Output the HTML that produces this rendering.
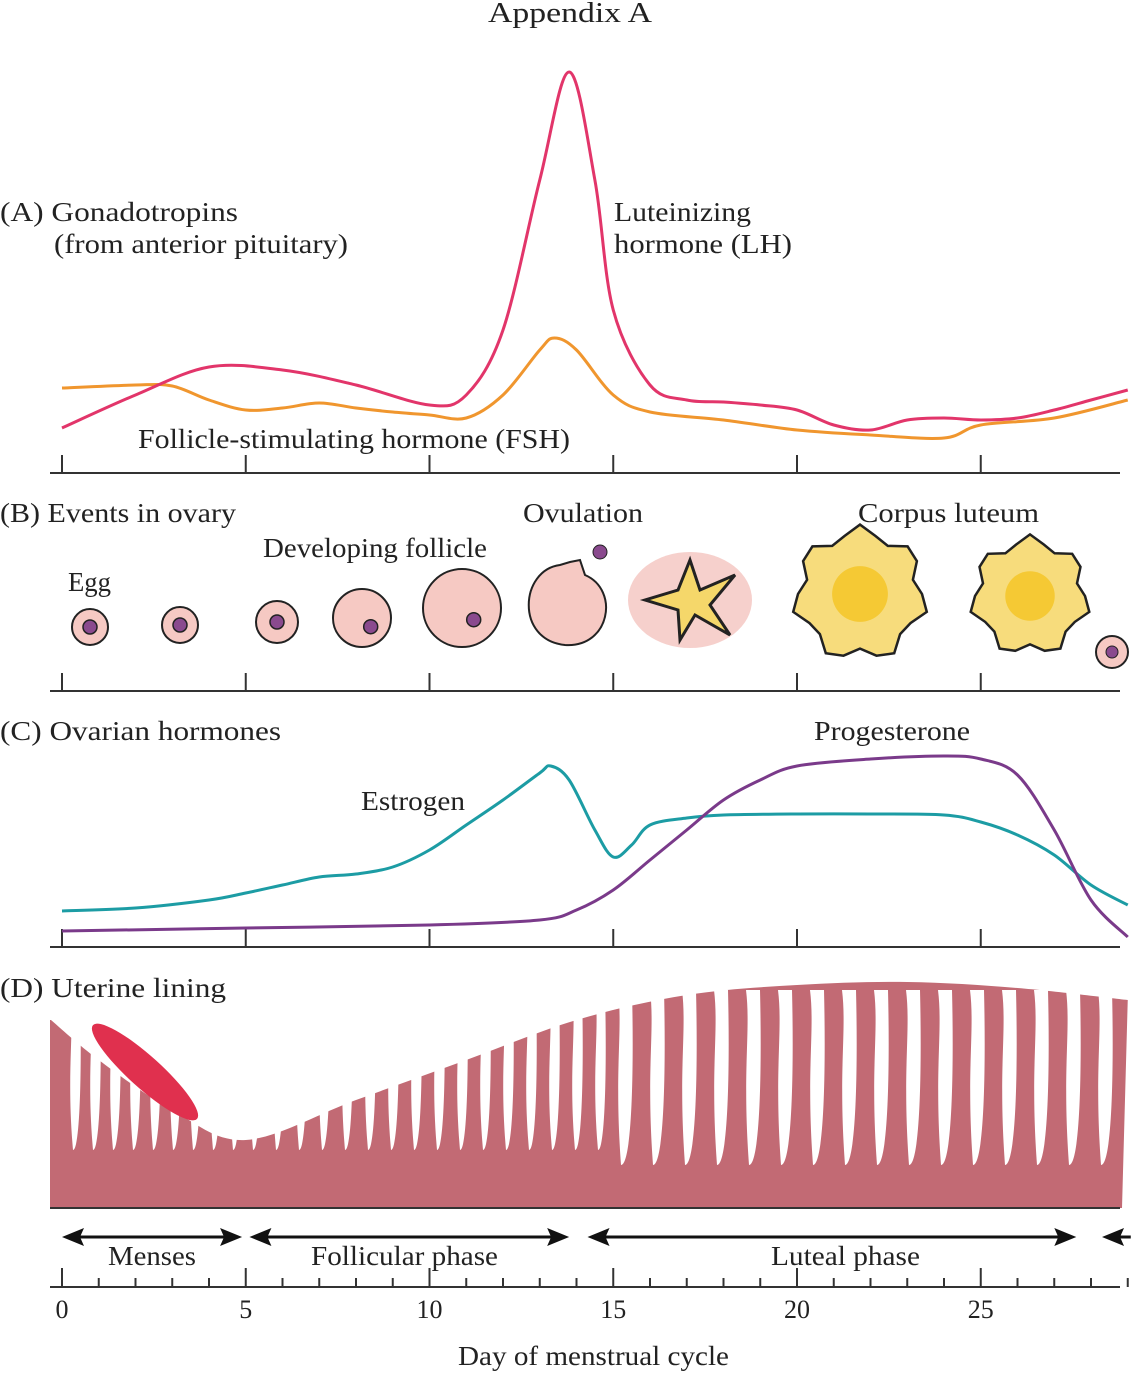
<!DOCTYPE html>
<html><head><meta charset="utf-8"><style>
body{margin:0;background:#fff}
svg{display:block}
text{font-family:"Liberation Serif",serif;fill:#222}
</style></head><body>
<svg id="chart" width="1142" height="1376" viewBox="0 0 1142 1376">
<text x="488" y="22" font-size="28" textLength="164" lengthAdjust="spacingAndGlyphs">Appendix A</text>
<g id="A"></g><g id="B"></g><g id="C"></g><g id="D"></g><g id="axes"></g>
<text x="0" y="221" font-size="27" textLength="238" lengthAdjust="spacingAndGlyphs">(A)  Gonadotropins</text>
<text x="54" y="253" font-size="27" textLength="294" lengthAdjust="spacingAndGlyphs">(from anterior pituitary)</text>
<text x="614" y="221" font-size="27" textLength="137" lengthAdjust="spacingAndGlyphs">Luteinizing</text>
<text x="614" y="253" font-size="27" textLength="178" lengthAdjust="spacingAndGlyphs">hormone (LH)</text>
<text x="138" y="448" font-size="27" textLength="432" lengthAdjust="spacingAndGlyphs">Follicle-stimulating hormone (FSH)</text>
<text x="0" y="522" font-size="27" textLength="236" lengthAdjust="spacingAndGlyphs">(B)  Events in ovary</text>
<text x="523" y="522" font-size="27" textLength="120" lengthAdjust="spacingAndGlyphs">Ovulation</text>
<text x="858" y="522" font-size="27" textLength="181" lengthAdjust="spacingAndGlyphs">Corpus luteum</text>
<text x="263" y="557" font-size="27" textLength="224" lengthAdjust="spacingAndGlyphs">Developing follicle</text>
<text x="68" y="591" font-size="27" textLength="43" lengthAdjust="spacingAndGlyphs">Egg</text>
<text x="0" y="740" font-size="27" textLength="281" lengthAdjust="spacingAndGlyphs">(C)  Ovarian hormones</text>
<text x="814" y="740" font-size="27" textLength="156" lengthAdjust="spacingAndGlyphs">Progesterone</text>
<text x="361" y="810" font-size="27" textLength="104" lengthAdjust="spacingAndGlyphs">Estrogen</text>
<text x="0" y="997" font-size="27" textLength="226" lengthAdjust="spacingAndGlyphs">(D)  Uterine lining</text>
<text x="108" y="1265" font-size="27" textLength="88" lengthAdjust="spacingAndGlyphs">Menses</text>
<text x="311" y="1265" font-size="27" textLength="187" lengthAdjust="spacingAndGlyphs">Follicular phase</text>
<text x="771" y="1265" font-size="27" textLength="149" lengthAdjust="spacingAndGlyphs">Luteal phase</text>
<text x="458" y="1365" font-size="27" textLength="271" lengthAdjust="spacingAndGlyphs">Day of menstrual cycle</text>
</svg>
<script>
const lhDays=[0,2,4,6,8,10,11,12,13,13.8,14.5,15,16,17,18,19,20,21,22,23,24,25,26,27,28,29];
const lhVals=[428,395,367,370,385,405,395,330,180,72,180,310,385,400,402,405,410,425,430,420,418,420,418,410,400,390];
const fshDays=[0,2,3,4,5,6,7,8,9,10,11,12,13,13.4,14,15,16,18,20,22,24,25,27,29];
const fshVals=[388,385,386,400,410,408,403,408,412,415,418,395,350,338,350,395,412,420,430,435,438,425,418,400];
const estDays=[0,2,4,5,6,7,8,9,10,11,12,13,13.3,13.8,14.5,15,15.5,16,17,18,20,22,24,25,26,27,28,29];
const estVals=[911,908,900,893,885,877,874,867,850,825,800,773,766,780,830,857,845,825,818,815,814,814,815,822,835,855,885,905];
const proDays=[0,5,10,13,14,15,16,17,18,19,20,22,24,25,26,27,28,29];
const proVals=[931,928,925,920,910,890,860,830,800,780,766,759,756,759,775,830,900,937];
const tickLabels=[0,5,10,15,20,25];
const NS="http://www.w3.org/2000/svg";
const X=d=>62+d*36.75;
function mk(t,a,p){const e=document.createElementNS(NS,t);for(const k in a)e.setAttribute(k,a[k]);(p||document.getElementById('chart')).appendChild(e);return e;}
function curve(days,vals){let pts=days.map((d,i)=>[X(d),vals[i]]);let s="M"+pts[0];for(let i=0;i<pts.length-1;i++){const p0=pts[i-1]||pts[i],p1=pts[i],p2=pts[i+1],p3=pts[i+2]||p2;const c1=[p1[0]+(p2[0]-p0[0])/6,p1[1]+(p2[1]-p0[1])/6],c2=[p2[0]-(p3[0]-p1[0])/6,p2[1]-(p3[1]-p1[1])/6];s+=" C"+c1+" "+c2+" "+p2;}return s;}
function baseline(g,y,name){const l=mk('line',{x1:50,x2:1120,y1:y,y2:y,stroke:'#333','stroke-width':2},g);
tickLabels.forEach(t=>{const k=mk('line',{x1:X(t),x2:X(t),y1:y,y2:y-18,stroke:'#333','stroke-width':2},g);});}
const A=document.getElementById('A'),B=document.getElementById('B'),C=document.getElementById('C'),D=document.getElementById('D'),AX=document.getElementById('axes');
baseline(A,473,'panel-a-axis');baseline(B,691,'panel-b-axis');baseline(C,947,'panel-c-axis');
let p=mk('path',{d:curve(fshDays,fshVals),fill:'none',stroke:'#f0962e','stroke-width':3},A);

p=mk('path',{d:curve(lhDays,lhVals),fill:'none',stroke:'#e2356a','stroke-width':3},A);

p=mk('path',{d:curve(estDays,estVals),fill:'none',stroke:'#1c9ca4','stroke-width':3},C);

p=mk('path',{d:curve(proDays,proVals),fill:'none',stroke:'#7a3a8a','stroke-width':3},C);

[[90,627,18,7],[180,625,18,7],[277,622,21,7],[362,618,29,7],[462,608,39,7]].forEach((f,i)=>{
 const c=mk('circle',{cx:f[0],cy:f[1],r:f[2],fill:'#f6c9c3',stroke:'#222','stroke-width':2},B);
 const e=mk('circle',{cx:f[0]+(i>2?f[2]*0.3:0),cy:f[1]+(i>2?f[2]*0.3:0),r:f[3],fill:'#8a4a8e',stroke:'#222','stroke-width':1.5},B);});
let o=mk('path',{d:'M560,565 C520,570 515,640 565,645 C610,648 620,590 585,575 L580,560 L570,562 Z',fill:'#f6c9c3',stroke:'#222','stroke-width':2},B);
o=mk('circle',{cx:600,cy:552,r:7,fill:'#8a4a8e',stroke:'#222'},B);
o=mk('ellipse',{cx:690,cy:600,rx:62,ry:48,fill:'#f4c4bf',opacity:0.8},B);
o=mk('path',{d:'M690,560 L700,590 L735,575 L710,605 L730,635 L695,615 L680,640 L678,610 L645,600 L678,590 Z',fill:'#f5d76a',stroke:'#222','stroke-width':3},B);
function blob(cx,cy,r,name){let s='';for(let i=0;i<=24;i++){const a=i/24*Math.PI*2,rr=r*(1+0.12*Math.sin(a*7));s+=(i?'L':'M')+(cx+rr*Math.cos(a)).toFixed(1)+','+(cy+rr*Math.sin(a)).toFixed(1);}
const e=mk('path',{d:s+'Z',fill:'#f7dc7c',stroke:'#222','stroke-width':2.5},B);
const c=mk('circle',{cx:cx,cy:cy,r:r*0.45,fill:'#f5c934'},B);}
blob(860,594,62,'corpus-luteum-1');blob(1030,596,55,'corpus-luteum-2');
o=mk('circle',{cx:1112,cy:652,r:16,fill:'#f6c9c3',stroke:'#222','stroke-width':2},B);
o=mk('circle',{cx:1112,cy:652,r:6,fill:'#8a4a8e',stroke:'#222'},B);
const topDays=[-0.3,1,3,5,8,11,14,17,20,23,26,29];
const topVals=[1020,1060,1110,1140,1100,1060,1020,995,985,982,988,1000];
let ut='M50,1208 L50,1020 '+curve(topDays,topVals).replace(/^M[^C]*/,'L'+X(-0.3)+','+1020+' ')+' L1122,1208 Z';
o=mk('path',{d:ut,fill:'#c26a74'},D);
for(let x=70;x<1115;x+=(x<250?20:(x<600?23:32))){const bot=x>600?1165:1150;const w=x>600?14:10;
 const g=mk('path',{d:`M${x},990 C${x+5},1030 ${x-4},1070 ${x+3},${bot} C${x+w},${bot} ${x+w+2},1070 ${x+w},990 Z`,fill:'#fff'},D);}
o=mk('ellipse',{cx:145,cy:1072,rx:70,ry:16,fill:'#e0304e',transform:'rotate(42 145 1072)'},D);
o=mk('line',{x1:50,x2:1120,y1:1208,y2:1208,stroke:'#333','stroke-width':2},D);
[[0,4.9],[5.1,13.8],[14.3,27.6],[28.3,29.3]].forEach((a,i)=>{const y=1237;
 const l=mk('line',{x1:X(a[0])+8,x2:X(a[1])-8,y1:y,y2:y,stroke:'#111','stroke-width':3},AX);
 const h1=mk('path',{d:`M${X(a[0])},${y} l22,-9 l-4,9 l4,9z`,fill:'#111'},AX);
 if(i<3){const h2=mk('path',{d:`M${X(a[1])},${y} l-22,-9 l4,9 l-4,9z`,fill:'#111'},AX);}});
o=mk('line',{x1:50,x2:1120,y1:1287,y2:1287,stroke:'#333','stroke-width':2},AX);
for(let d=0;d<=29;d++){const t=mk('line',{x1:X(d),x2:X(d),y1:1287,y2:d%5?1278:1268,stroke:'#333','stroke-width':2},AX);}
tickLabels.forEach(t=>{const e=mk('text',{x:X(t),y:1318,'font-size':26,'text-anchor':'middle'},AX);e.textContent=t;});
</script>
</body></html>
